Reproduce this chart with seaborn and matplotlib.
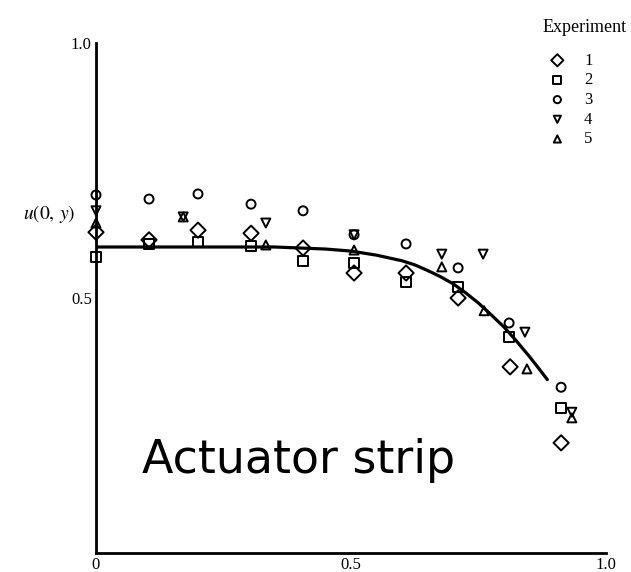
import matplotlib
matplotlib.use("Agg")
import matplotlib.pyplot as plt
import seaborn as sns
import pandas as pd

sns.set_style("white")
plt.rcParams["font.family"] = ["Liberation Serif", "DejaVu Serif"]
plt.rcParams["mathtext.fontset"] = "stix"
plt.rcParams["text.color"] = "black"
plt.rcParams["xtick.color"] = "black"
plt.rcParams["ytick.color"] = "black"

# Theoretical profile (solid curve)
curve_y = [0.0, 0.1, 0.2, 0.3, 0.35, 0.4, 0.45, 0.5, 0.55, 0.6, 0.625, 0.65, 0.675,
           0.7, 0.725, 0.75, 0.775, 0.8, 0.825, 0.85, 0.865, 0.885]
curve_u = [0.6, 0.6, 0.6, 0.6, 0.6, 0.598, 0.596, 0.592, 0.584, 0.573, 0.565, 0.554,
           0.542, 0.528, 0.51, 0.49, 0.467, 0.443, 0.415, 0.385, 0.366, 0.34]

# Measurements, one list pair per experiment
exp1_y = [0.0, 0.104, 0.2, 0.304, 0.406, 0.506, 0.608, 0.71, 0.812, 0.912]
exp1_u = [0.629, 0.614, 0.633, 0.627, 0.598, 0.549, 0.549, 0.5, 0.365, 0.216]
exp2_y = [0.0, 0.104, 0.2, 0.304, 0.406, 0.506, 0.608, 0.71, 0.81, 0.912]
exp2_u = [0.58, 0.606, 0.61, 0.602, 0.573, 0.569, 0.531, 0.522, 0.424, 0.284]
exp3_y = [0.0, 0.104, 0.2, 0.304, 0.406, 0.506, 0.608, 0.71, 0.81, 0.912]
exp3_u = [0.702, 0.694, 0.704, 0.684, 0.671, 0.624, 0.606, 0.559, 0.451, 0.325]
exp4_y = [0.0, 0.171, 0.333, 0.506, 0.678, 0.759, 0.841, 0.933]
exp4_u = [0.671, 0.659, 0.647, 0.624, 0.586, 0.586, 0.433, 0.276]
exp5_y = [0.0, 0.171, 0.333, 0.506, 0.678, 0.761, 0.845, 0.933]
exp5_u = [0.647, 0.659, 0.604, 0.594, 0.561, 0.475, 0.361, 0.265]

experiments = ["1", "2", "3", "4", "5"]
markers = {"1": "D", "2": "s", "3": "o", "4": "v", "5": "^"}
sizes = {"1": 60, "2": 48, "3": 42, "4": 42, "5": 42}
series = {
    "1": (exp1_y, exp1_u),
    "2": (exp2_y, exp2_u),
    "3": (exp3_y, exp3_u),
    "4": (exp4_y, exp4_u),
    "5": (exp5_y, exp5_u),
}

W, H = 631, 572
fig = plt.figure(figsize=(W / 100, H / 100), dpi=100)
ax = fig.add_axes([96 / W, 19 / H, 510 / W, 510 / H])

sns.lineplot(x=curve_y, y=curve_u, ax=ax, color="black", linewidth=2.3,
             sort=False, estimator=None)

for e in experiments:
    ys, us = series[e]
    df = pd.DataFrame({"y": ys, "u": us})
    sns.scatterplot(data=df, x="y", y="u", ax=ax, marker=markers[e], s=sizes[e],
                    color="black", facecolor="none", edgecolor="black",
                    linewidth=1.4, label=e, clip_on=False, zorder=3)

ax.set_xlim(0, 1)
ax.set_ylim(0, 1)
for side in ["top", "right"]:
    ax.spines[side].set_visible(False)
for side in ["left", "bottom"]:
    ax.spines[side].set_linewidth(2.0)
    ax.spines[side].set_color("black")

ax.set_xticks([0, 0.5, 1.0])
ax.set_xticklabels(["0", "0.5", "1.0"])
ax.set_yticks([0.5, 1.0])
ax.set_yticklabels(["0.5", "1.0"])
ax.tick_params(axis="both", direction="in", length=8, width=1.8, labelsize=12,
               colors="black")
ax.tick_params(axis="x", pad=3)
ax.tick_params(axis="y", pad=3)
ax.set_xlabel("")
ax.set_ylabel("")

ax.text(-0.04, 0.665, r"$u(0,\,y)$", transform=ax.transAxes, ha="right",
        va="center", fontsize=14)

ax.text(0.09, 0.157, "Actuator strip", transform=ax.transData, color="black",
        fontsize=33, family="DejaVu Sans", ha="left", va="baseline")

# Legend: header drawn as text, entries below it
fig.text(585 / W, 1 - 27 / H, "Experiment", ha="center", va="center", fontsize=13)
leg = ax.legend(loc="upper left",
                bbox_to_anchor=(534 / W, 1 - 46 / H), bbox_transform=fig.transFigure,
                frameon=False, handlelength=2.0, handletextpad=0.6,
                labelspacing=0.22, borderaxespad=0, fontsize=12, markerscale=0.8)

fig.savefig("out.png", dpi=100, facecolor="white")
